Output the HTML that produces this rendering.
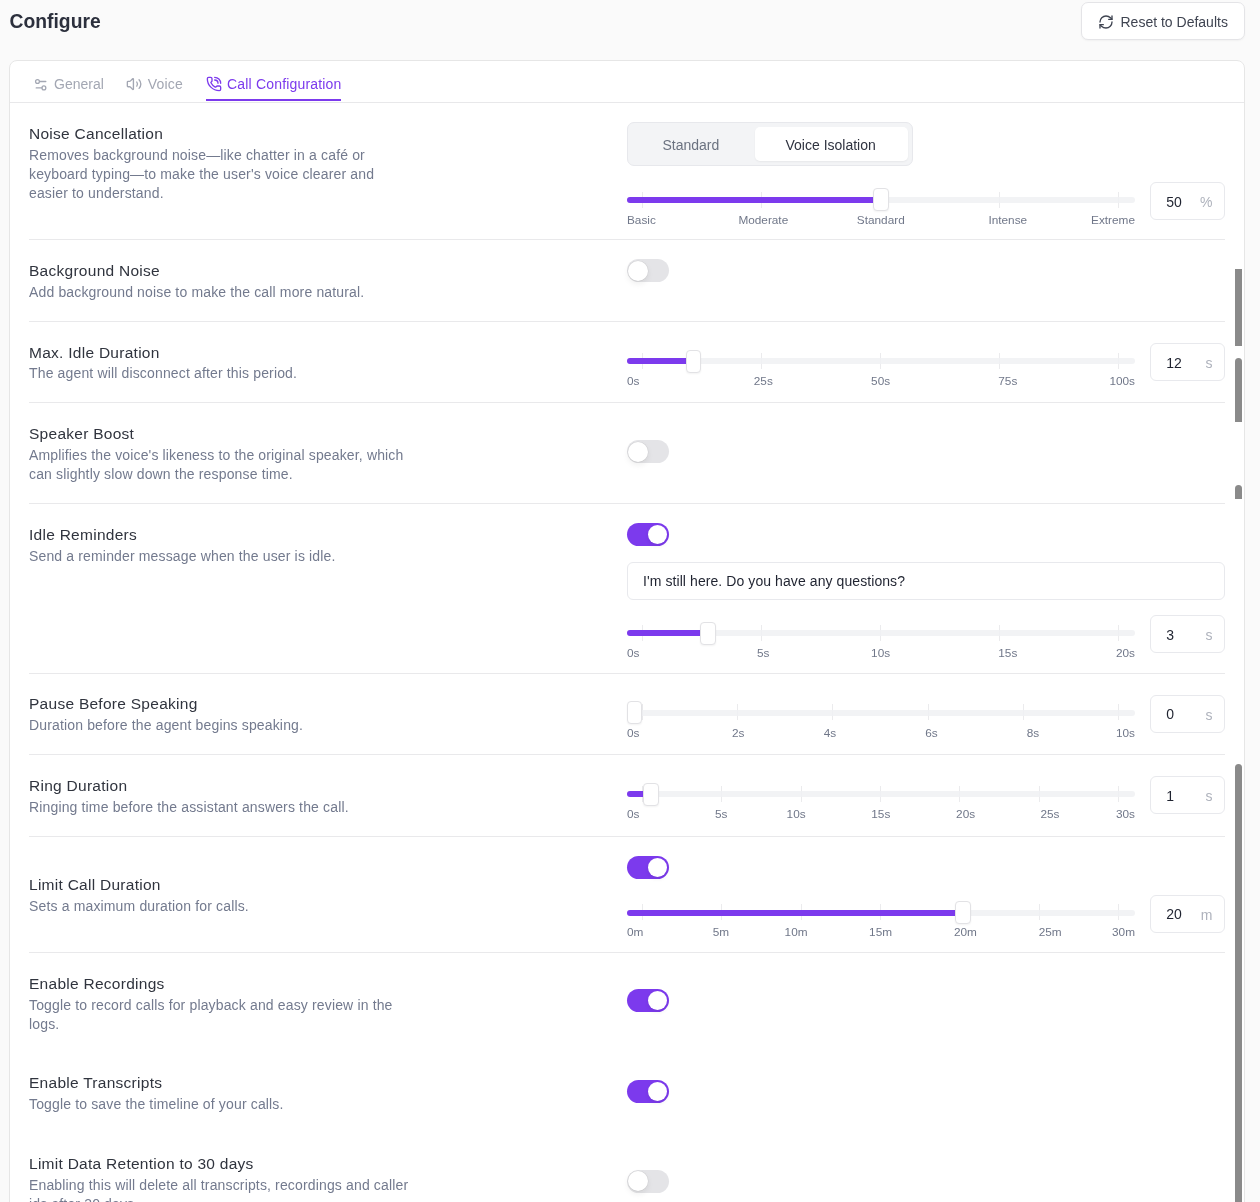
<!DOCTYPE html>
<html><head><meta charset="utf-8"><title>Configure</title>
<style>
html,body{margin:0;padding:0}
body{width:1260px;height:1202px;overflow:hidden;background:#fafafa;position:relative;font-family:"Liberation Sans",Arial,sans-serif;-webkit-font-smoothing:antialiased;}
#root{position:absolute;left:0;top:0;width:1260px;height:1202px;will-change:transform}
.t{position:absolute;white-space:nowrap}
.b{position:absolute}
</style></head><body><div id="root">
<div class="t" style="left:9.6px;top:7.91px;font-size:19.3px;line-height:27px;color:#2c303d;font-weight:700;">Configure</div>
<div class="b" style="left:1081px;top:2px;width:164px;height:38px;background:#fff;border:1px solid #e4e4e7;border-radius:7px;box-sizing:border-box;box-shadow:0 1px 2px rgba(0,0,0,0.04)"></div>
<svg class="b" style="left:1097.5px;top:13.8px" width="16" height="16" viewBox="0 0 24 24" fill="none" stroke="#3f4451" stroke-width="2" stroke-linecap="round" stroke-linejoin="round"><path d="M3 12a9 9 0 0 1 9-9 9.75 9.75 0 0 1 6.74 2.74L21 8"/><path d="M21 3v5h-5"/><path d="M21 12a9 9 0 0 1-9 9 9.75 9.75 0 0 1-6.74-2.74L3 16"/><path d="M8 16H3v5"/></svg>
<div class="t" style="left:1120.5px;top:11.95px;font-size:14px;line-height:20px;color:#3f4451;">Reset to Defaults</div>
<div class="b" style="left:9px;top:60px;width:1236px;height:1200px;background:#fff;border:1px solid #e6e6e6;border-radius:8px;box-sizing:border-box"></div>
<div class="b" style="left:10px;top:102px;width:1234px;height:1px;background:#e8e8ea"></div>
<svg class="b" style="left:33.02px;top:76.77px" width="15.4" height="15.4" viewBox="0 0 24 24" fill="none" stroke="#a3a7b3" stroke-width="2" stroke-linecap="round" stroke-linejoin="round"><path d="M20 7h-9"/><path d="M14 17H5"/><circle cx="17" cy="17" r="3"/><circle cx="7" cy="7" r="3"/></svg>
<div class="t" style="left:54px;top:74.25px;font-size:14px;line-height:20px;color:#a3a7b3;">General</div>
<svg class="b" style="left:125.8px;top:76px" width="16.2" height="16.2" viewBox="0 0 24 24" fill="none" stroke="#a3a7b3" stroke-width="2" stroke-linecap="round" stroke-linejoin="round"><path d="M11 4.702a.705.705 0 0 0-1.203-.498L6.413 7.587A1.4 1.4 0 0 1 5.416 8H3a1 1 0 0 0-1 1v6a1 1 0 0 0 1 1h2.416a1.4 1.4 0 0 1 .997.413l3.383 3.384A.705.705 0 0 0 11 19.298z"/><path d="M16 9a5 5 0 0 1 0 6"/><path d="M19.364 18.364a9 9 0 0 0 0-12.728"/></svg>
<div class="t" style="left:147.8px;top:74.25px;font-size:14px;line-height:20px;color:#a3a7b3;letter-spacing:0.2px;">Voice</div>
<svg class="b" style="left:205.5px;top:75.5px" width="16" height="16" viewBox="0 0 24 24" fill="none" stroke="#7c3aed" stroke-width="2" stroke-linecap="round" stroke-linejoin="round"><path d="M13 2a9 9 0 0 1 9 9"/><path d="M13 6a5 5 0 0 1 5 5"/><path d="M13.832 16.568a1 1 0 0 0 1.213-.303l.355-.465A2 2 0 0 1 17 15h3a2 2 0 0 1 2 2v3a2 2 0 0 1-2 2A18 18 0 0 1 2 4a2 2 0 0 1 2-2h3a2 2 0 0 1 2 2v3a2 2 0 0 1-.8 1.6l-.468.351a1 1 0 0 0-.292 1.233 14 14 0 0 0 6.392 6.384"/></svg>
<div class="t" style="left:227px;top:74.25px;font-size:14px;line-height:20px;color:#7c3aed;letter-spacing:0.18px;">Call Configuration</div>
<div class="b" style="left:206px;top:99px;width:135px;height:2px;background:#7c3aed"></div>
<div class="b" style="left:29px;top:239px;width:1196px;height:1px;background:#e9e9eb"></div>
<div class="b" style="left:29px;top:321px;width:1196px;height:1px;background:#e9e9eb"></div>
<div class="b" style="left:29px;top:402px;width:1196px;height:1px;background:#e9e9eb"></div>
<div class="b" style="left:29px;top:503px;width:1196px;height:1px;background:#e9e9eb"></div>
<div class="b" style="left:29px;top:673px;width:1196px;height:1px;background:#e9e9eb"></div>
<div class="b" style="left:29px;top:754px;width:1196px;height:1px;background:#e9e9eb"></div>
<div class="b" style="left:29px;top:836px;width:1196px;height:1px;background:#e9e9eb"></div>
<div class="b" style="left:29px;top:952px;width:1196px;height:1px;background:#e9e9eb"></div>
<div class="t" style="left:29px;top:122.63px;font-size:15.5px;line-height:22px;color:#30343e;letter-spacing:0.27px;">Noise Cancellation</div>
<div class="t" style="left:29px;top:144.85px;font-size:14px;line-height:20px;color:#737a8e;letter-spacing:0.15px;">Removes background noise—like chatter in a café or</div>
<div class="t" style="left:29px;top:163.95px;font-size:14px;line-height:20px;color:#737a8e;letter-spacing:0.15px;">keyboard typing—to make the user's voice clearer and</div>
<div class="t" style="left:29px;top:183.05px;font-size:14px;line-height:20px;color:#737a8e;letter-spacing:0.15px;">easier to understand.</div>
<div class="t" style="left:29px;top:259.63px;font-size:15.5px;line-height:22px;color:#30343e;letter-spacing:0.27px;">Background Noise</div>
<div class="t" style="left:29px;top:282.15px;font-size:14px;line-height:20px;color:#737a8e;letter-spacing:0.15px;">Add background noise to make the call more natural.</div>
<div class="t" style="left:29px;top:341.53px;font-size:15.5px;line-height:22px;color:#30343e;letter-spacing:0.27px;">Max. Idle Duration</div>
<div class="t" style="left:29px;top:363.25px;font-size:14px;line-height:20px;color:#737a8e;letter-spacing:0.15px;">The agent will disconnect after this period.</div>
<div class="t" style="left:29px;top:422.53px;font-size:15.5px;line-height:22px;color:#30343e;letter-spacing:0.27px;">Speaker Boost</div>
<div class="t" style="left:29px;top:444.95px;font-size:14px;line-height:20px;color:#737a8e;letter-spacing:0.15px;">Amplifies the voice's likeness to the original speaker, which</div>
<div class="t" style="left:29px;top:464.05px;font-size:14px;line-height:20px;color:#737a8e;letter-spacing:0.15px;">can slightly slow down the response time.</div>
<div class="t" style="left:29px;top:523.63px;font-size:15.5px;line-height:22px;color:#30343e;letter-spacing:0.27px;">Idle Reminders</div>
<div class="t" style="left:29px;top:545.65px;font-size:14px;line-height:20px;color:#737a8e;letter-spacing:0.15px;">Send a reminder message when the user is idle.</div>
<div class="t" style="left:29px;top:693.43px;font-size:15.5px;line-height:22px;color:#30343e;letter-spacing:0.27px;">Pause Before Speaking</div>
<div class="t" style="left:29px;top:715.25px;font-size:14px;line-height:20px;color:#737a8e;letter-spacing:0.15px;">Duration before the agent begins speaking.</div>
<div class="t" style="left:29px;top:774.63px;font-size:15.5px;line-height:22px;color:#30343e;letter-spacing:0.27px;">Ring Duration</div>
<div class="t" style="left:29px;top:797.05px;font-size:14px;line-height:20px;color:#737a8e;letter-spacing:0.15px;">Ringing time before the assistant answers the call.</div>
<div class="t" style="left:29px;top:873.53px;font-size:15.5px;line-height:22px;color:#30343e;letter-spacing:0.27px;">Limit Call Duration</div>
<div class="t" style="left:29px;top:895.85px;font-size:14px;line-height:20px;color:#737a8e;letter-spacing:0.15px;">Sets a maximum duration for calls.</div>
<div class="t" style="left:29px;top:972.53px;font-size:15.5px;line-height:22px;color:#30343e;letter-spacing:0.27px;">Enable Recordings</div>
<div class="t" style="left:29px;top:994.75px;font-size:14px;line-height:20px;color:#737a8e;letter-spacing:0.15px;">Toggle to record calls for playback and easy review in the</div>
<div class="t" style="left:29px;top:1013.85px;font-size:14px;line-height:20px;color:#737a8e;letter-spacing:0.15px;">logs.</div>
<div class="t" style="left:29px;top:1072.43px;font-size:15.5px;line-height:22px;color:#30343e;letter-spacing:0.27px;">Enable Transcripts</div>
<div class="t" style="left:29px;top:1094.15px;font-size:14px;line-height:20px;color:#737a8e;letter-spacing:0.15px;">Toggle to save the timeline of your calls.</div>
<div class="t" style="left:29px;top:1152.53px;font-size:15.5px;line-height:22px;color:#30343e;letter-spacing:0.27px;">Limit Data Retention to 30 days</div>
<div class="t" style="left:29px;top:1175.05px;font-size:14px;line-height:20px;color:#737a8e;letter-spacing:0.15px;">Enabling this will delete all transcripts, recordings and caller</div>
<div class="t" style="left:29px;top:1194.15px;font-size:14px;line-height:20px;color:#737a8e;letter-spacing:0.15px;">ids after 30 days.</div>
<div class="b" style="left:627px;top:259.2px;width:42px;height:23px;background:#e4e4e7;border-radius:12px"></div>
<div class="b" style="left:628px;top:260.7px;width:20px;height:20px;background:#fff;border-radius:50%;box-shadow:0 0 0 0.5px rgba(0,0,0,0.07),0 3px 6px rgba(0,0,0,0.07)"></div>
<div class="b" style="left:627px;top:440px;width:42px;height:23px;background:#e4e4e7;border-radius:12px"></div>
<div class="b" style="left:628px;top:441.5px;width:20px;height:20px;background:#fff;border-radius:50%;box-shadow:0 0 0 0.5px rgba(0,0,0,0.07),0 3px 6px rgba(0,0,0,0.07)"></div>
<div class="b" style="left:627px;top:523.1px;width:42px;height:23px;background:#7c3aed;border-radius:12px"></div>
<div class="b" style="left:648px;top:525.1px;width:19px;height:19px;background:#fff;border-radius:50%;box-shadow:0 2px 4px rgba(0,0,0,0.08)"></div>
<div class="b" style="left:627px;top:856.2px;width:42px;height:23px;background:#7c3aed;border-radius:12px"></div>
<div class="b" style="left:648px;top:858.2px;width:19px;height:19px;background:#fff;border-radius:50%;box-shadow:0 2px 4px rgba(0,0,0,0.08)"></div>
<div class="b" style="left:627px;top:989.1px;width:42px;height:23px;background:#7c3aed;border-radius:12px"></div>
<div class="b" style="left:648px;top:991.1px;width:19px;height:19px;background:#fff;border-radius:50%;box-shadow:0 2px 4px rgba(0,0,0,0.08)"></div>
<div class="b" style="left:627px;top:1079.5px;width:42px;height:23px;background:#7c3aed;border-radius:12px"></div>
<div class="b" style="left:648px;top:1081.5px;width:19px;height:19px;background:#fff;border-radius:50%;box-shadow:0 2px 4px rgba(0,0,0,0.08)"></div>
<div class="b" style="left:627px;top:1169.6px;width:42px;height:23px;background:#e4e4e7;border-radius:12px"></div>
<div class="b" style="left:628px;top:1171.1px;width:20px;height:20px;background:#fff;border-radius:50%;box-shadow:0 0 0 0.5px rgba(0,0,0,0.07),0 3px 6px rgba(0,0,0,0.07)"></div>
<div class="b" style="left:627px;top:122px;width:285.5px;height:44px;background:#f3f4f6;border:1px solid #e7e8ec;border-radius:7px;box-sizing:border-box"></div>
<div class="b" style="left:754.5px;top:127px;width:153.5px;height:34px;background:#fff;border-radius:5px;box-shadow:0 1px 2px rgba(0,0,0,0.05)"></div>
<div class="t" style="left:662.5px;top:134.65px;font-size:14px;line-height:20px;color:#6b7280;">Standard</div>
<div class="t" style="left:785.5px;top:134.65px;font-size:14px;line-height:20px;color:#2f3340;">Voice Isolation</div>
<div class="b" style="left:642px;top:191.5px;width:1px;height:16px;background:#ebebed"></div>
<div class="b" style="left:761px;top:191.5px;width:1px;height:16px;background:#ebebed"></div>
<div class="b" style="left:880px;top:191.5px;width:1px;height:16px;background:#ebebed"></div>
<div class="b" style="left:999px;top:191.5px;width:1px;height:16px;background:#ebebed"></div>
<div class="b" style="left:1118px;top:191.5px;width:1px;height:16px;background:#ebebed"></div>
<div class="b" style="left:627px;top:197px;width:508px;height:6px;background:rgba(240,241,243,0.85);border-radius:3px"></div>
<div class="b" style="left:627px;top:197px;width:254.0px;height:6px;background:#7c3aed;border-radius:3px"></div>
<div class="b" style="left:873.0px;top:188.4px;width:15.6px;height:23px;background:#fff;border:1px solid #e2e2e5;border-radius:4px;box-sizing:border-box;box-shadow:0 1px 2px rgba(0,0,0,0.05)"></div>
<div class="t" style="left:627px;top:211.71px;font-size:11.8px;line-height:16px;color:#707789">Basic</div>
<div class="t" style="left:713.3px;width:100px;text-align:center;top:211.71px;font-size:11.8px;line-height:16px;color:#707789">Moderate</div>
<div class="t" style="left:830.8px;width:100px;text-align:center;top:211.71px;font-size:11.8px;line-height:16px;color:#707789">Standard</div>
<div class="t" style="left:957.8px;width:100px;text-align:center;top:211.71px;font-size:11.8px;line-height:16px;color:#707789">Intense</div>
<div class="t" style="right:125px;top:211.71px;font-size:11.8px;line-height:16px;color:#707789;text-align:right">Extreme</div>
<div class="b" style="left:1150px;top:182px;width:75px;height:38px;background:#fff;border:1px solid #e8e9ed;border-radius:6px;box-sizing:border-box"></div>
<div class="t" style="left:1166.3px;top:191.55px;font-size:14px;line-height:20px;color:#1f2330;">50</div>
<div class="t" style="right:47.5px;top:191.95px;font-size:14px;line-height:20px;color:#aeb2bc">%</div>
<div class="b" style="left:642px;top:352.6px;width:1px;height:16px;background:#ebebed"></div>
<div class="b" style="left:761px;top:352.6px;width:1px;height:16px;background:#ebebed"></div>
<div class="b" style="left:880px;top:352.6px;width:1px;height:16px;background:#ebebed"></div>
<div class="b" style="left:999px;top:352.6px;width:1px;height:16px;background:#ebebed"></div>
<div class="b" style="left:1118px;top:352.6px;width:1px;height:16px;background:#ebebed"></div>
<div class="b" style="left:627px;top:358.1px;width:508px;height:6px;background:rgba(240,241,243,0.85);border-radius:3px"></div>
<div class="b" style="left:627px;top:358.1px;width:66.65999999999997px;height:6px;background:#7c3aed;border-radius:3px"></div>
<div class="b" style="left:685.66px;top:349.5px;width:15.6px;height:23px;background:#fff;border:1px solid #e2e2e5;border-radius:4px;box-sizing:border-box;box-shadow:0 1px 2px rgba(0,0,0,0.05)"></div>
<div class="t" style="left:627px;top:372.81px;font-size:11.8px;line-height:16px;color:#707789">0s</div>
<div class="t" style="left:713.3px;width:100px;text-align:center;top:372.81px;font-size:11.8px;line-height:16px;color:#707789">25s</div>
<div class="t" style="left:830.6px;width:100px;text-align:center;top:372.81px;font-size:11.8px;line-height:16px;color:#707789">50s</div>
<div class="t" style="left:957.8px;width:100px;text-align:center;top:372.81px;font-size:11.8px;line-height:16px;color:#707789">75s</div>
<div class="t" style="right:125px;top:372.81px;font-size:11.8px;line-height:16px;color:#707789;text-align:right">100s</div>
<div class="b" style="left:1150px;top:343.1px;width:75px;height:38px;background:#fff;border:1px solid #e8e9ed;border-radius:6px;box-sizing:border-box"></div>
<div class="t" style="left:1166.3px;top:352.65px;font-size:14px;line-height:20px;color:#1f2330;">12</div>
<div class="t" style="right:47.5px;top:353.05px;font-size:14px;line-height:20px;color:#aeb2bc">s</div>
<div class="b" style="left:642px;top:624.8px;width:1px;height:16px;background:#ebebed"></div>
<div class="b" style="left:761px;top:624.8px;width:1px;height:16px;background:#ebebed"></div>
<div class="b" style="left:880px;top:624.8px;width:1px;height:16px;background:#ebebed"></div>
<div class="b" style="left:999px;top:624.8px;width:1px;height:16px;background:#ebebed"></div>
<div class="b" style="left:1118px;top:624.8px;width:1px;height:16px;background:#ebebed"></div>
<div class="b" style="left:627px;top:630.3px;width:508px;height:6px;background:rgba(240,241,243,0.85);border-radius:3px"></div>
<div class="b" style="left:627px;top:630.3px;width:81.45000000000005px;height:6px;background:#7c3aed;border-radius:3px"></div>
<div class="b" style="left:700.45px;top:621.6999999999999px;width:15.6px;height:23px;background:#fff;border:1px solid #e2e2e5;border-radius:4px;box-sizing:border-box;box-shadow:0 1px 2px rgba(0,0,0,0.05)"></div>
<div class="t" style="left:627px;top:645.01px;font-size:11.8px;line-height:16px;color:#707789">0s</div>
<div class="t" style="left:713.3px;width:100px;text-align:center;top:645.01px;font-size:11.8px;line-height:16px;color:#707789">5s</div>
<div class="t" style="left:830.6px;width:100px;text-align:center;top:645.01px;font-size:11.8px;line-height:16px;color:#707789">10s</div>
<div class="t" style="left:957.8px;width:100px;text-align:center;top:645.01px;font-size:11.8px;line-height:16px;color:#707789">15s</div>
<div class="t" style="right:125px;top:645.01px;font-size:11.8px;line-height:16px;color:#707789;text-align:right">20s</div>
<div class="b" style="left:1150px;top:615.3px;width:75px;height:38px;background:#fff;border:1px solid #e8e9ed;border-radius:6px;box-sizing:border-box"></div>
<div class="t" style="left:1166.3px;top:624.85px;font-size:14px;line-height:20px;color:#1f2330;">3</div>
<div class="t" style="right:47.5px;top:625.25px;font-size:14px;line-height:20px;color:#aeb2bc">s</div>
<div class="b" style="left:642px;top:704.4px;width:1px;height:16px;background:#ebebed"></div>
<div class="b" style="left:737px;top:704.4px;width:1px;height:16px;background:#ebebed"></div>
<div class="b" style="left:832px;top:704.4px;width:1px;height:16px;background:#ebebed"></div>
<div class="b" style="left:928px;top:704.4px;width:1px;height:16px;background:#ebebed"></div>
<div class="b" style="left:1023px;top:704.4px;width:1px;height:16px;background:#ebebed"></div>
<div class="b" style="left:1118px;top:704.4px;width:1px;height:16px;background:#ebebed"></div>
<div class="b" style="left:627px;top:709.9px;width:508px;height:6px;background:rgba(240,241,243,0.85);border-radius:3px"></div>
<div class="b" style="left:627px;top:709.9px;width:7.5px;height:6px;background:#7c3aed;border-radius:3px"></div>
<div class="b" style="left:626.5px;top:701.3px;width:15.6px;height:23px;background:#fff;border:1px solid #e2e2e5;border-radius:4px;box-sizing:border-box;box-shadow:0 1px 2px rgba(0,0,0,0.05)"></div>
<div class="t" style="left:627px;top:724.61px;font-size:11.8px;line-height:16px;color:#707789">0s</div>
<div class="t" style="left:688.3px;width:100px;text-align:center;top:724.61px;font-size:11.8px;line-height:16px;color:#707789">2s</div>
<div class="t" style="left:780px;width:100px;text-align:center;top:724.61px;font-size:11.8px;line-height:16px;color:#707789">4s</div>
<div class="t" style="left:881.4px;width:100px;text-align:center;top:724.61px;font-size:11.8px;line-height:16px;color:#707789">6s</div>
<div class="t" style="left:983px;width:100px;text-align:center;top:724.61px;font-size:11.8px;line-height:16px;color:#707789">8s</div>
<div class="t" style="right:125px;top:724.61px;font-size:11.8px;line-height:16px;color:#707789;text-align:right">10s</div>
<div class="b" style="left:1150px;top:694.9px;width:75px;height:38px;background:#fff;border:1px solid #e8e9ed;border-radius:6px;box-sizing:border-box"></div>
<div class="t" style="left:1166.3px;top:704.45px;font-size:14px;line-height:20px;color:#1f2330;">0</div>
<div class="t" style="right:47.5px;top:704.85px;font-size:14px;line-height:20px;color:#aeb2bc">s</div>
<div class="b" style="left:642px;top:785.9px;width:1px;height:16px;background:#ebebed"></div>
<div class="b" style="left:721px;top:785.9px;width:1px;height:16px;background:#ebebed"></div>
<div class="b" style="left:801px;top:785.9px;width:1px;height:16px;background:#ebebed"></div>
<div class="b" style="left:880px;top:785.9px;width:1px;height:16px;background:#ebebed"></div>
<div class="b" style="left:959px;top:785.9px;width:1px;height:16px;background:#ebebed"></div>
<div class="b" style="left:1039px;top:785.9px;width:1px;height:16px;background:#ebebed"></div>
<div class="b" style="left:1118px;top:785.9px;width:1px;height:16px;background:#ebebed"></div>
<div class="b" style="left:627px;top:791.4px;width:508px;height:6px;background:rgba(240,241,243,0.85);border-radius:3px"></div>
<div class="b" style="left:627px;top:791.4px;width:23.93333333333328px;height:6px;background:#7c3aed;border-radius:3px"></div>
<div class="b" style="left:642.9333333333333px;top:782.8px;width:15.6px;height:23px;background:#fff;border:1px solid #e2e2e5;border-radius:4px;box-sizing:border-box;box-shadow:0 1px 2px rgba(0,0,0,0.05)"></div>
<div class="t" style="left:627px;top:806.11px;font-size:11.8px;line-height:16px;color:#707789">0s</div>
<div class="t" style="left:671.3px;width:100px;text-align:center;top:806.11px;font-size:11.8px;line-height:16px;color:#707789">5s</div>
<div class="t" style="left:746.1px;width:100px;text-align:center;top:806.11px;font-size:11.8px;line-height:16px;color:#707789">10s</div>
<div class="t" style="left:830.8px;width:100px;text-align:center;top:806.11px;font-size:11.8px;line-height:16px;color:#707789">15s</div>
<div class="t" style="left:915.6px;width:100px;text-align:center;top:806.11px;font-size:11.8px;line-height:16px;color:#707789">20s</div>
<div class="t" style="left:999.9000000000001px;width:100px;text-align:center;top:806.11px;font-size:11.8px;line-height:16px;color:#707789">25s</div>
<div class="t" style="right:125px;top:806.11px;font-size:11.8px;line-height:16px;color:#707789;text-align:right">30s</div>
<div class="b" style="left:1150px;top:776.4px;width:75px;height:38px;background:#fff;border:1px solid #e8e9ed;border-radius:6px;box-sizing:border-box"></div>
<div class="t" style="left:1166.3px;top:785.95px;font-size:14px;line-height:20px;color:#1f2330;">1</div>
<div class="t" style="right:47.5px;top:786.35px;font-size:14px;line-height:20px;color:#aeb2bc">s</div>
<div class="b" style="left:642px;top:904.2px;width:1px;height:16px;background:#ebebed"></div>
<div class="b" style="left:721px;top:904.2px;width:1px;height:16px;background:#ebebed"></div>
<div class="b" style="left:801px;top:904.2px;width:1px;height:16px;background:#ebebed"></div>
<div class="b" style="left:880px;top:904.2px;width:1px;height:16px;background:#ebebed"></div>
<div class="b" style="left:959px;top:904.2px;width:1px;height:16px;background:#ebebed"></div>
<div class="b" style="left:1039px;top:904.2px;width:1px;height:16px;background:#ebebed"></div>
<div class="b" style="left:1118px;top:904.2px;width:1px;height:16px;background:#ebebed"></div>
<div class="b" style="left:627px;top:909.7px;width:508px;height:6px;background:rgba(240,241,243,0.85);border-radius:3px"></div>
<div class="b" style="left:627px;top:909.7px;width:336.16666666666663px;height:6px;background:#7c3aed;border-radius:3px"></div>
<div class="b" style="left:955.1666666666666px;top:901.1px;width:15.6px;height:23px;background:#fff;border:1px solid #e2e2e5;border-radius:4px;box-sizing:border-box;box-shadow:0 1px 2px rgba(0,0,0,0.05)"></div>
<div class="t" style="left:627px;top:924.41px;font-size:11.8px;line-height:16px;color:#707789">0m</div>
<div class="t" style="left:670.9px;width:100px;text-align:center;top:924.41px;font-size:11.8px;line-height:16px;color:#707789">5m</div>
<div class="t" style="left:746.1px;width:100px;text-align:center;top:924.41px;font-size:11.8px;line-height:16px;color:#707789">10m</div>
<div class="t" style="left:830.6px;width:100px;text-align:center;top:924.41px;font-size:11.8px;line-height:16px;color:#707789">15m</div>
<div class="t" style="left:915.4px;width:100px;text-align:center;top:924.41px;font-size:11.8px;line-height:16px;color:#707789">20m</div>
<div class="t" style="left:1000.2px;width:100px;text-align:center;top:924.41px;font-size:11.8px;line-height:16px;color:#707789">25m</div>
<div class="t" style="right:125px;top:924.41px;font-size:11.8px;line-height:16px;color:#707789;text-align:right">30m</div>
<div class="b" style="left:1150px;top:894.7px;width:75px;height:38px;background:#fff;border:1px solid #e8e9ed;border-radius:6px;box-sizing:border-box"></div>
<div class="t" style="left:1166.3px;top:904.25px;font-size:14px;line-height:20px;color:#1f2330;">20</div>
<div class="t" style="right:47.5px;top:904.65px;font-size:14px;line-height:20px;color:#aeb2bc">m</div>
<div class="b" style="left:627px;top:562px;width:598px;height:38px;background:#fff;border:1px solid #e8e9ed;border-radius:6px;box-sizing:border-box"></div>
<div class="t" style="left:643px;top:571.15px;font-size:14px;line-height:20px;color:#1f2330;letter-spacing:0.08px;">I'm still here. Do you have any questions?</div>
<div class="b" style="left:1235px;top:269px;width:7px;height:76.7px;background:#8a8a8a"></div>
<div class="b" style="left:1235px;top:358.1px;width:7px;height:63.9px;background:#8a8a8a;border-radius:3.5px 3.5px 0 0"></div>
<div class="b" style="left:1235px;top:485.1px;width:7px;height:13.7px;background:#8a8a8a;border-radius:3.5px 3.5px 0 0"></div>
<div class="b" style="left:1235px;top:764.2px;width:7px;height:440px;background:#8a8a8a;border-radius:3.5px 3.5px 0 0"></div>
</div></body></html>
